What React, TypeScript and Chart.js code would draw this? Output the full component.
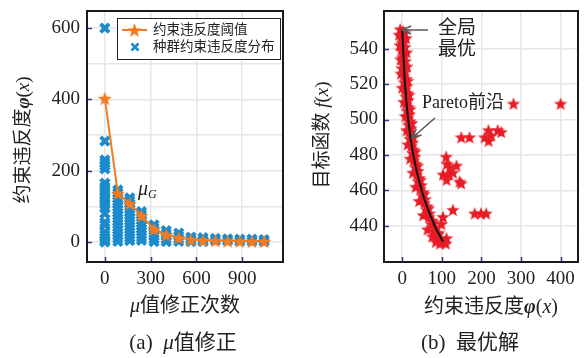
import React, { useEffect, useRef } from 'react';
import { Chart, registerables } from 'chart.js';
Chart.register(...registerables);

// ---------------- data: left chart (μ value correction) ----------------
const iterCounts = [0, 85, 163, 240, 322, 402, 484, 564, 643, 724, 804, 884, 964, 1043];
const thresholdValues = [403, 137, 108, 74, 36, 20, 12, 7, 5, 4, 3, 3, 2, 2];
const populationViolation = [
  [600, 283, 230, 222, 214, 205, 165, 155, 145, 135, 125, 115, 105, 95, 80, 55, 48, 28, 20, 12, 5, 0],
  [146, 138, 130, 122, 114, 106, 98, 90, 82, 74, 66, 58, 50, 42, 34, 26, 18, 10, 2],
  [124, 116, 108, 100, 92, 84, 76, 68, 60, 52, 44, 36, 28, 20, 12, 4],
  [85, 77, 69, 61, 53, 45, 37, 29, 21, 13, 5],
  [48, 40, 32, 24, 16, 8, 1],
  [32, 24, 16, 8, 1],
  [25, 17, 9, 2],
  [14, 7, 1],
  [12, 5, 1],
  [10, 4],
  [9, 3],
  [8, 2],
  [8, 2],
  [7, 1],
];
const leftXTicks = [0, 300, 600, 900];
const leftYGrid = [0, 100, 200, 300, 400, 500, 600];
const leftYLabels = [0, 200, 400, 600];

// ---------------- data: right chart (optimal solutions) ----------------
const solPhi = [
  -5, 2, 6, -3, 4, 0, 7, -2, 5, 1, 8, 3, -1, 7, 4, 10, 5, 11, 7, 13, 9, 15, 10, 16, 12, 18, 14, 20, 16, 22,
  18, 24, 20, 26, 23, 29, 26, 32, 29, 35, 33, 40, 37, 43, 41, 48, 46, 53, 51, 58, 56, 63, 62, 69, 68, 76,
  74, 84, 80, 90, 88, 97, 104, 95, 110,
  -8, 10, -6, 11, -4, 12, -3, 14, 0, 17, 4, 20, 8, 24, 11, 28, 14, 33, 20, 39, 27, 46, 34, 55, 43, 66, 53,
  78, 64, 92, 76, 112, 85,
  103, 99, 128, 183, 199, 212, 111, 113, 120, 137, 103, 118, 128, 145, 112, 149,
  149, 170, 208, 218, 218, 225, 241, 250, 281, 400,
];
const solF = [
  551, 550, 549, 547, 545, 543, 541, 539, 537, 535, 533, 531, 529, 527, 525, 523, 521, 519, 517, 515, 513,
  511, 509, 507, 505, 503, 501, 499, 497, 495, 493, 491, 489, 487, 485, 483, 481, 479, 477, 475, 473, 471,
  469, 467, 465, 463, 461, 459, 457, 455, 453, 451, 449, 447, 445, 443, 441, 439, 437, 435, 433, 432, 431,
  430, 430,
  548, 546, 542, 538, 534, 530, 526, 522, 518, 514, 510, 506, 502, 498, 494, 490, 486, 482, 478, 474, 470,
  466, 462, 458, 454, 450, 446, 442, 438, 436, 434, 433, 431,
  445, 441, 449, 447, 447, 447, 479, 475, 473, 474, 469, 469, 470, 465, 466, 464,
  490, 490, 490, 488, 494, 491, 494, 493, 509, 509,
];
const frontPhi = [0, 7, 15, 28, 49, 82, 103];
const frontF = [551, 520, 500, 480, 460, 440, 431];
const rightXTicks = [0, 100, 200, 300, 400];
const rightYTicks = [440, 460, 480, 500, 520, 540];

// ---------------- styles ----------------
const SERIF = "'Liberation Serif', 'Noto Sans CJK SC', serif";
const TICK_FONT = { family: "'Liberation Serif', serif", size: 19 };
const TEXT = '#222';
const GRID = '#e6e6e6';
const ORANGE = '#f47b20';
const BLUE = '#1a8bcc';
const RED = '#e81c26';
const TICKMARK = '#2b3d92';

type Seg = { t: string; it?: boolean; b?: boolean; size?: number; dy?: number };

function drawRich(ctx: CanvasRenderingContext2D, segs: Seg[], x: number, y: number, size: number, align: 'left' | 'center', rot = 0) {
  ctx.save();
  ctx.translate(x, y);
  if (rot) ctx.rotate(rot);
  ctx.textBaseline = 'middle';
  ctx.textAlign = 'left';
  ctx.fillStyle = TEXT;
  const fontOf = (s: Seg) => `${s.it ? 'italic ' : ''}${s.b ? 'bold ' : ''}${s.size ?? size}px ${SERIF}`;
  let w = 0;
  for (const s of segs) { ctx.font = fontOf(s); w += ctx.measureText(s.t).width; }
  let cx = align === 'center' ? -w / 2 : 0;
  for (const s of segs) {
    ctx.font = fontOf(s);
    ctx.fillText(s.t, cx, s.dy || 0);
    cx += ctx.measureText(s.t).width;
  }
  ctx.restore();
}

function arrow(ctx: CanvasRenderingContext2D, x1: number, y1: number, x2: number, y2: number) {
  ctx.save();
  ctx.strokeStyle = '#5a5a5a';
  ctx.lineWidth = 1.6;
  ctx.beginPath();
  ctx.moveTo(x1, y1);
  ctx.lineTo(x2, y2);
  const a = Math.atan2(y2 - y1, x2 - x1);
  const L = 10, h = 0.42;
  ctx.moveTo(x2 - L * Math.cos(a - h), y2 - L * Math.sin(a - h));
  ctx.lineTo(x2, y2);
  ctx.lineTo(x2 - L * Math.cos(a + h), y2 - L * Math.sin(a + h));
  ctx.stroke();
  ctx.restore();
}

function makeStar(size: number, color: string) {
  const c = document.createElement('canvas');
  c.width = size;
  c.height = size;
  const g = c.getContext('2d')!;
  const R = size / 2, r = R * 0.42, cx = size / 2, cy = size / 2 + size * 0.05;
  g.beginPath();
  for (let i = 0; i < 10; i++) {
    const a = -Math.PI / 2 + (i * Math.PI) / 5;
    const rr = i % 2 === 0 ? R : r;
    const px = cx + rr * Math.cos(a), py = cy + rr * Math.sin(a);
    if (i === 0) g.moveTo(px, py); else g.lineTo(px, py);
  }
  g.closePath();
  g.fillStyle = color;
  g.fill();
  return c;
}

function frameAndTicks(chart: any, xLabels: number[], yLabels: number[]) {
  const { ctx, chartArea: a, scales } = chart;
  ctx.save();
  ctx.strokeStyle = TICKMARK;
  ctx.lineWidth = 1.5;
  ctx.beginPath();
  for (const v of yLabels) {
    const py = Math.round(scales.y.getPixelForValue(v)) + 0.5;
    ctx.moveTo(a.left, py);
    ctx.lineTo(a.left + 5, py);
  }
  for (const v of xLabels) {
    const px = Math.round(scales.x.getPixelForValue(v)) + 0.5;
    ctx.moveTo(px, a.bottom);
    ctx.lineTo(px, a.bottom - 5);
  }
  ctx.stroke();
  ctx.strokeStyle = '#1a1a1a';
  ctx.lineWidth = 2;
  ctx.strokeRect(a.left, a.top, a.right - a.left, a.bottom - a.top);
  ctx.restore();
}

export default function App() {
  const leftRef = useRef<HTMLCanvasElement>(null);
  const rightRef = useRef<HTMLCanvasElement>(null);

  useEffect(() => {
    const orangeStar = makeStar(15, ORANGE);
    const legendStar = makeStar(15, ORANGE);
    const redStar = makeStar(14, RED);

    const bluePoints = iterCounts.flatMap((x, i) => populationViolation[i].map((y) => ({ x, y })));
    const thresholdPoints = iterCounts.map((x, i) => ({ x, y: thresholdValues[i] }));

    const leftPlugin = {
      id: 'leftDecor',
      afterDraw(chart: any) {
        const ctx: CanvasRenderingContext2D = chart.ctx;
        frameAndTicks(chart, leftXTicks, leftYLabels);
        // legend
        ctx.save();
        ctx.fillStyle = '#fff';
        ctx.strokeStyle = '#222';
        ctx.lineWidth = 1;
        ctx.fillRect(117.5, 18.5, 163, 41);
        ctx.strokeRect(117.5, 18.5, 163, 41);
        ctx.strokeStyle = ORANGE;
        ctx.lineWidth = 2;
        ctx.beginPath();
        ctx.moveTo(122, 30);
        ctx.lineTo(147, 30);
        ctx.stroke();
        ctx.drawImage(legendStar, 134.5 - 7.5, 30 - 7.5);
        ctx.strokeStyle = BLUE;
        ctx.lineWidth = 2.5;
        ctx.beginPath();
        ctx.moveTo(131.5, 43.5); ctx.lineTo(138.5, 50.5);
        ctx.moveTo(138.5, 43.5); ctx.lineTo(131.5, 50.5);
        ctx.stroke();
        ctx.restore();
        drawRich(ctx, [{ t: '约束违反度阈值' }], 153, 30.5, 13.5, 'left');
        drawRich(ctx, [{ t: '种群约束违反度分布' }], 153, 47.5, 13.5, 'left');
        // μ_G label
        drawRich(ctx, [{ t: 'μ', it: true, size: 20 }, { t: 'G', it: true, size: 12, dy: 5 }], 138, 190, 20, 'left');
        // titles
        drawRich(ctx, [{ t: '约束违反度' }, { t: 'φ', it: true, b: true }, { t: '(' }, { t: 'x', it: true }, { t: ')' }], 24, 140, 19, 'center', -Math.PI / 2);
        drawRich(ctx, [{ t: 'μ', it: true }, { t: '值修正次数' }], 185, 307, 20, 'center');
        drawRich(ctx, [{ t: '(a)  ' }, { t: 'μ', it: true }, { t: '值修正' }], 183, 343, 21, 'center');
      },
    };

    const left = new Chart(leftRef.current!, {
      type: 'scatter',
      data: {
        datasets: [
          {
            label: '约束违反度阈值',
            data: thresholdPoints,
            showLine: true,
            borderColor: ORANGE,
            borderWidth: 2,
            pointStyle: orangeStar as any,
            pointRadius: 7,
            order: 0,
          },
          {
            label: '种群约束违反度分布',
            data: bluePoints,
            pointStyle: 'crossRot',
            pointRadius: 6,
            borderColor: BLUE,
            backgroundColor: BLUE,
            pointBorderWidth: 4,
            order: 1,
          },
        ],
      },
      options: {
        responsive: false,
        animation: false,
        events: [],
        layout: { padding: { top: 11, right: 9, bottom: 0, left: 0 } },
        plugins: { legend: { display: false }, tooltip: { enabled: false } },
        scales: {
          x: {
            type: 'linear',
            min: -117,
            max: 1167,
            afterBuildTicks: (s: any) => { s.ticks = leftXTicks.map((v) => ({ value: v })); },
            ticks: { font: TICK_FONT, color: TEXT, padding: 6, maxRotation: 0, autoSkip: false, callback: (v: any) => String(v) },
            grid: { color: GRID, lineWidth: 1.5, drawTicks: false },
            border: { display: false },
            afterFit: (s: any) => { s.height = 96; s.paddingLeft = 0; s.paddingRight = 0; },
          },
          y: {
            type: 'linear',
            min: -56,
            max: 648,
            afterBuildTicks: (s: any) => { s.ticks = leftYGrid.map((v) => ({ value: v })); },
            ticks: { font: TICK_FONT, color: TEXT, padding: 7, autoSkip: false, callback: (v: any) => (leftYLabels.includes(v) ? String(v) : '') },
            grid: { color: GRID, lineWidth: 1.5, drawTicks: false },
            border: { display: false },
            afterFit: (s: any) => { s.width = 87; s.paddingTop = 0; s.paddingBottom = 0; },
          },
        },
      } as any,
      plugins: [leftPlugin],
    });

    const solPoints = solPhi.map((x, i) => ({ x, y: solF[i] }));
    const frontPoints = frontPhi.map((x, i) => ({ x, y: frontF[i] }));

    const rightPlugin = {
      id: 'rightDecor',
      afterDraw(chart: any) {
        const ctx: CanvasRenderingContext2D = chart.ctx;
        frameAndTicks(chart, rightXTicks, rightYTicks);
        drawRich(ctx, [{ t: '全局' }], 145, 29, 19, 'left');
        drawRich(ctx, [{ t: '最优' }], 145, 50, 19, 'left');
        arrow(ctx, 135, 30, 109, 30);
        drawRich(ctx, [{ t: 'Pareto' }, { t: '前沿' }], 129, 103.5, 18, 'left');
        arrow(ctx, 142, 118, 119, 138);
        drawRich(ctx, [{ t: '目标函数 ' }, { t: 'f', it: true }, { t: '(' }, { t: 'x', it: true }, { t: ')' }], 30, 135, 19, 'center', -Math.PI / 2);
        drawRich(ctx, [{ t: '约束违反度' }, { t: 'φ', it: true, b: true }, { t: '(' }, { t: 'x', it: true }, { t: ')' }], 198, 308, 20, 'center');
        drawRich(ctx, [{ t: '(b)  ' }, { t: '最优解' }], 177, 343, 21, 'center');
      },
    };

    const right = new Chart(rightRef.current!, {
      type: 'scatter',
      data: {
        datasets: [
          {
            label: 'Pareto前沿',
            data: frontPoints,
            showLine: true,
            borderColor: '#111',
            borderWidth: 2,
            pointRadius: 0,
            cubicInterpolationMode: 'monotone',
            order: 0,
          },
          {
            label: '解',
            data: solPoints,
            pointStyle: redStar as any,
            pointRadius: 7,
            order: 1,
          },
        ],
      },
      options: {
        responsive: false,
        animation: false,
        events: [],
        layout: { padding: { top: 11, right: 7, bottom: 0, left: 0 } },
        plugins: { legend: { display: false }, tooltip: { enabled: false } },
        scales: {
          x: {
            type: 'linear',
            min: -46,
            max: 444,
            afterBuildTicks: (s: any) => { s.ticks = rightXTicks.map((v) => ({ value: v })); },
            ticks: { font: TICK_FONT, color: TEXT, padding: 6, maxRotation: 0, autoSkip: false, callback: (v: any) => String(v) },
            grid: { color: GRID, lineWidth: 1.5, drawTicks: false },
            border: { display: false },
            afterFit: (s: any) => { s.height = 96; s.paddingLeft = 0; s.paddingRight = 0; },
          },
          y: {
            type: 'linear',
            min: 419.5,
            max: 561.3,
            afterBuildTicks: (s: any) => { s.ticks = rightYTicks.map((v) => ({ value: v })); },
            ticks: { font: TICK_FONT, color: TEXT, padding: 6, autoSkip: false, callback: (v: any) => String(v) },
            grid: { color: GRID, lineWidth: 1.5, drawTicks: false },
            border: { display: false },
            afterFit: (s: any) => { s.width = 91; s.paddingTop = 0; s.paddingBottom = 0; },
          },
        },
      } as any,
      plugins: [rightPlugin],
    });

    return () => {
      left.destroy();
      right.destroy();
    };
  }, []);

  return (
    <div style={{ position: 'fixed', left: 0, top: 0, width: 586, height: 358, background: '#fff' }}>
      <canvas ref={leftRef} width={293} height={358} style={{ position: 'absolute', left: 0, top: 0 }} />
      <canvas ref={rightRef} width={293} height={358} style={{ position: 'absolute', left: 293, top: 0 }} />
    </div>
  );
}
